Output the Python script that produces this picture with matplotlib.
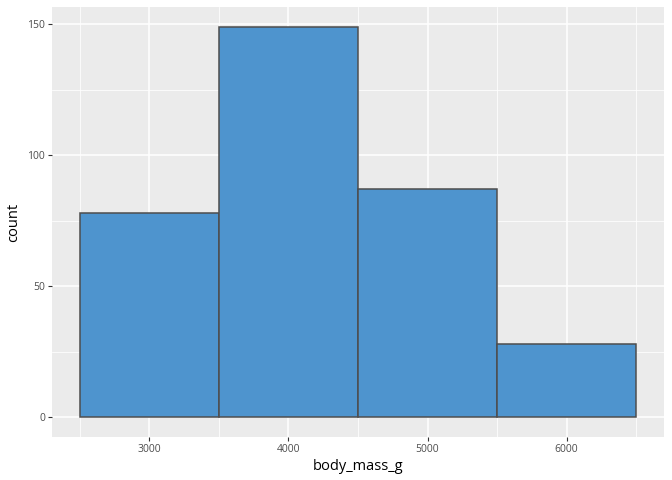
import numpy as np
import matplotlib
matplotlib.use("Agg")
import matplotlib.pyplot as plt

# histogram of penguins body mass, binwidth 1000
bin_edges = [2500, 3500, 4500, 5500, 6500]
counts = [78, 149, 87, 28]
x_ticks = [3000, 4000, 5000, 6000]
y_ticks = [0, 50, 100, 150]

plt.rcParams['font.family'] = ['Open Sans', 'DejaVu Sans']

fig = plt.figure(figsize=(6.72, 4.8), dpi=100)
ax = fig.add_axes([52/672, 1 - 437/480, (664 - 52)/672, (437 - 7)/480])
ax.set_facecolor('#EBEBEB')

lefts = bin_edges[:-1]
widths = np.diff(bin_edges)
ax.bar(lefts, counts, width=widths, align='edge', color='#4E94CE',
       edgecolor='#4D4D4D', linewidth=1.1, zorder=3)

ax.set_xlim(2300, 6700)
ax.set_ylim(-7.45, 156.45)
ax.set_xticks(x_ticks)
ax.set_yticks(y_ticks)
ax.set_xticks([2500, 3500, 4500, 5500, 6500], minor=True)
ax.set_yticks([25, 75, 125], minor=True)
ax.grid(which='major', color='white', linewidth=1.1, zorder=0)
ax.grid(which='minor', color='white', linewidth=0.55, zorder=0)
ax.set_axisbelow(True)
for s in ax.spines.values():
    s.set_visible(False)

ax.tick_params(which='major', length=3, width=0.8, color='#333333',
               labelsize=7.5, labelcolor='#4D4D4D', pad=2)
ax.tick_params(which='minor', length=0)

ax.set_xlabel('body_mass_g', fontsize=10.5, color='black', labelpad=3)
ax.set_ylabel('count', fontsize=10.5, color='black', labelpad=4)

fig.savefig('out.png', dpi=100)
